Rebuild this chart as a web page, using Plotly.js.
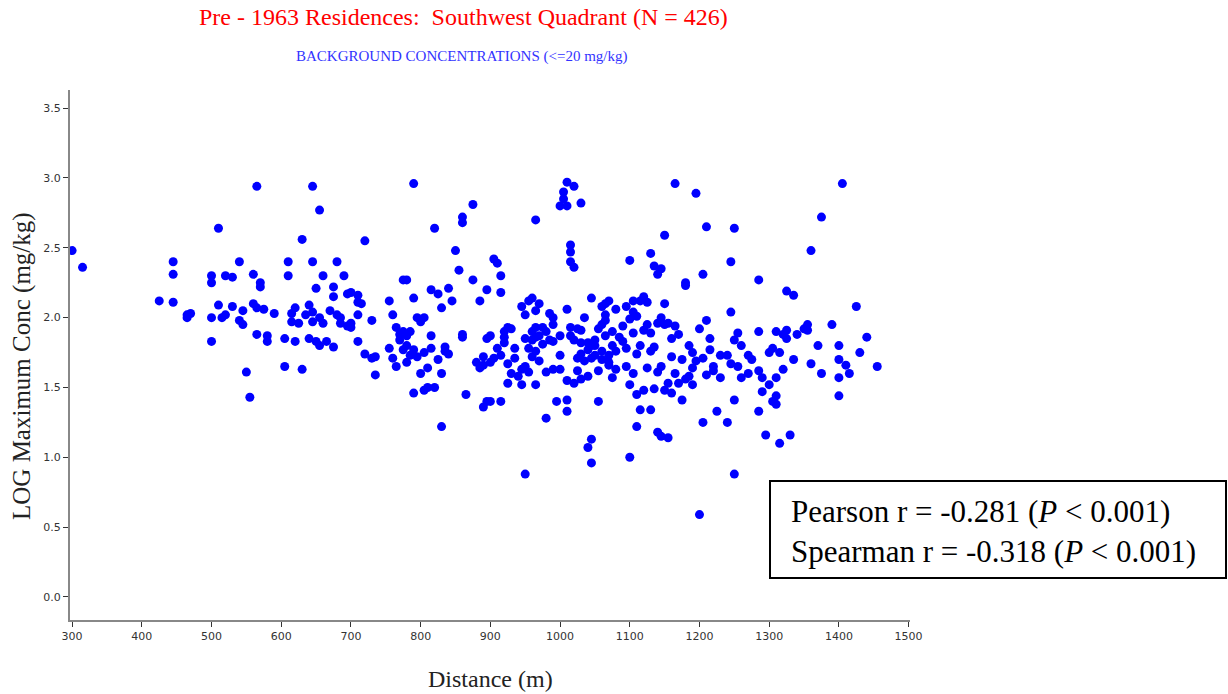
<!DOCTYPE html>
<html><head><meta charset="utf-8">
<script src="https://cdn.plot.ly/plotly-3.0.1.min.js"></script>
<style>html,body{margin:0;padding:0;background:#fff}#chart{width:1228px;height:694px}</style>
</head><body><div id="chart"></div>
<script>
const distance = [
300,315,425,445,445,445,465,465,470,
500,500,500,500,510,510,515,520,520,530,530,540,540,545,545,550,555,560,560,565,565,565,570,570,575,580,580,590,
605,605,610,610,615,615,620,620,625,630,630,635,640,640,645,645,645,645,650,650,655,655,655,660,660,665,670,675,675,675,680,680,685,685,690,695,695,700,700,700,
710,710,710,710,715,720,720,730,730,735,735,755,755,760,760,765,765,770,770,775,775,775,780,780,780,780,785,785,790,790,790,790,795,795,800,800,805,805,805,810,810,815,815,815,820,820,825,825,830,830,830,835,835,840,840,845,850,855,860,860,860,860,865,875,875,880,885,885,890,890,890,895,895,895,900,900,900,905,905,910,910,915,915,915,915,920,920,920,925,925,925,930,930,935,935,940,945,945,945,950,950,950,950,955,955,955,960,960,960,960,965,965,965,965,965,965,970,970,970,975,975,980,980,980,985,985,990,990,990,990,995,
1000,1000,1000,1000,1005,1005,1010,1010,1010,1010,1010,1010,1015,1015,1015,1015,1015,1020,1020,1020,1020,1025,1025,1025,1030,1030,1030,1030,1030,1035,1035,1040,1040,1040,1040,1045,1045,1045,1045,1045,1050,1050,1050,1055,1055,1055,1060,1060,1060,1060,1065,1065,1065,1065,1070,1070,1070,1070,1075,1075,1075,1080,1080,1080,1085,1090,1090,1095,1095,1095,
1100,1100,1100,1100,1105,1105,1105,1105,1110,1110,1110,1110,1115,1115,1115,1120,1120,1120,1125,1125,1125,1130,1130,1130,1130,1135,1135,1135,1140,1140,1140,1140,1145,1145,1145,1145,1150,1150,1150,1150,1155,1155,1155,1160,1160,1160,1165,1165,1165,1170,1170,1175,1175,1180,1180,1180,1185,1185,1190,1190,1190,1195,1195,
1200,1200,1205,1205,1205,1210,1210,1210,1215,1215,1220,1220,1225,1230,1230,1240,1240,1245,1245,1245,1250,1250,1250,1250,1255,1255,1260,1260,1270,1270,1275,1285,1285,1285,1285,1290,1290,1295,
1300,1300,1305,1305,1310,1310,1310,1310,1315,1315,1320,1320,1325,1325,1325,1330,1335,1335,1340,1350,1355,1355,1360,1360,1370,1375,1375,1390,
1400,1400,1400,1400,1405,1410,1415,1425,1430,1440,1455
];
const logConc = [
2.48,2.36,2.12,2.11,2.31,2.40,2.00,2.02,2.03,
2.30,2.25,2.00,1.83,2.64,2.09,2.00,2.02,2.30,2.08,2.29,2.40,1.98,1.95,2.05,1.61,1.43,2.31,2.10,2.94,2.07,1.88,2.22,2.25,2.06,1.87,1.83,2.03,
1.65,1.85,2.40,2.30,2.03,1.97,2.07,1.83,1.96,2.56,1.63,2.02,2.09,1.85,2.94,2.40,2.04,1.97,2.21,1.83,2.77,2.00,1.80,2.30,1.96,1.83,2.05,2.22,2.15,1.79,2.40,2.02,2.00,1.96,2.30,2.17,1.94,2.18,1.96,1.93,
2.16,2.11,2.02,1.83,2.10,2.55,1.74,1.98,1.71,1.59,1.72,2.12,1.78,2.02,1.71,1.65,1.93,1.84,1.88,2.27,1.90,1.77,2.27,1.68,1.80,1.87,1.90,1.73,2.14,2.96,1.46,1.77,2.00,1.72,1.97,1.60,1.48,2.00,1.75,1.50,1.64,2.20,1.87,1.78,2.64,1.50,2.17,1.70,2.07,1.60,1.22,1.79,1.76,2.21,1.74,2.12,2.48,2.34,2.68,2.72,1.88,1.86,1.45,2.81,2.27,1.68,1.64,2.12,1.36,1.66,1.72,1.40,1.85,2.20,1.68,1.87,1.40,2.42,1.71,2.39,1.78,1.73,2.30,2.18,1.40,1.82,1.86,1.90,1.93,1.53,1.67,1.92,1.60,1.78,1.71,1.58,1.63,1.52,2.08,2.02,1.85,0.88,1.65,1.61,1.78,2.12,2.14,1.84,1.90,1.72,2.70,2.05,1.93,1.86,1.76,1.52,2.10,1.87,1.69,1.93,1.81,1.28,1.90,1.61,2.03,1.84,2.00,1.83,1.95,1.63,1.40,
2.80,1.87,1.73,1.63,2.85,2.90,2.97,2.80,2.06,1.41,1.33,1.55,2.52,2.47,2.40,1.93,1.87,2.94,2.36,1.84,1.53,1.92,1.62,1.71,2.82,1.91,1.82,1.56,1.74,2.00,1.69,1.07,1.77,1.82,1.58,1.13,0.96,2.14,1.80,1.71,1.80,1.84,1.73,1.62,1.92,1.40,2.08,1.76,1.95,1.70,2.10,2.02,1.98,1.87,1.68,1.66,2.12,1.73,1.57,1.90,1.80,2.06,1.76,1.63,1.86,1.94,1.83,2.08,1.78,1.65,
2.41,1.99,1.00,1.52,2.04,2.12,1.89,1.60,1.22,2.01,1.74,1.45,1.80,2.12,1.34,2.15,1.48,1.91,2.11,1.95,1.64,2.46,1.89,1.76,1.34,2.37,1.79,1.49,2.31,1.96,1.18,1.61,2.35,1.15,1.65,2.00,2.59,2.10,1.95,1.48,1.96,1.53,1.14,1.85,1.72,1.46,2.96,1.60,1.94,1.53,1.88,1.70,1.41,2.23,2.25,1.56,1.80,1.58,1.64,1.52,1.75,2.89,1.69,
0.59,1.92,2.31,1.25,1.71,2.65,1.98,1.59,1.85,1.77,1.62,1.65,1.33,1.57,1.73,1.73,1.25,2.40,2.04,1.67,2.64,1.84,1.41,0.88,1.89,1.65,1.80,1.57,1.73,1.60,1.70,2.27,1.90,1.33,1.62,1.57,1.47,1.16,
1.75,1.52,1.78,1.40,1.57,1.38,1.90,1.44,1.10,1.75,1.88,1.63,2.19,1.85,1.91,1.16,2.16,1.70,1.88,1.92,1.95,1.91,2.48,1.67,1.80,2.72,1.60,1.95,
1.80,1.70,1.44,1.57,2.96,1.66,1.60,2.08,1.75,1.86,1.65
];
const xTicks = [300,400,500,600,700,800,900,1000,1100,1200,1300,1400,1500];
const yTicks = [0.0,0.5,1.0,1.5,2.0,2.5,3.0,3.5];
const titleText = 'Pre - 1963 Residences:  Southwest Quadrant (N = 426)';
const subtitleText = 'BACKGROUND CONCENTRATIONS (<=20 mg/kg)';
const xTitle = 'Distance (m)';
const yTitle = 'LOG Maximum Conc (mg/kg)';
const statsText = 'Pearson r = -0.281 (<i>P</i> < 0.001)<br>Spearman r = -0.318 (<i>P</i> < 0.001)';

const L = 70, R = 910, T = 90, B = 620;
const W = 1228, H = 694;
const px = x => (x - L) / (R - L);
const py = y => (B - y) / (B - T);
const serif = 'Liberation Serif, Times New Roman, serif';

const trace = {
  x: distance, y: logConc, type: 'scatter', mode: 'markers',
  marker: {color: '#0000ff', size: 9, line: {width: 0}},
  hoverinfo: 'x+y'
};
const axisCommon = {
  showgrid: false, zeroline: false, showline: true, linecolor: '#888888', linewidth: 2,
  ticks: 'outside', ticklen: 5, tickcolor: '#333333', tickwidth: 1,
  tickfont: {family: 'DejaVu Sans, Verdana, sans-serif', size: 11, color: '#333333'}
};
const layout = {
  width: W, height: H, showlegend: false,
  paper_bgcolor: '#ffffff', plot_bgcolor: '#ffffff',
  margin: {l: L, r: W - R, t: T, b: H - B, pad: 0},
  xaxis: Object.assign({}, axisCommon, {range: [297, 1502], tickvals: xTicks, ticktext: xTicks.map(String)}),
  yaxis: Object.assign({}, axisCommon, {range: [-0.165, 3.63], tickvals: yTicks, ticktext: yTicks.map(v => v.toFixed(1))}),
  shapes: [
    {type: 'rect', xref: 'paper', yref: 'paper', x0: px(770), x1: px(1226), y0: py(578), y1: py(481),
     line: {color: '#000000', width: 2}, fillcolor: '#ffffff', layer: 'above'}
  ],
  annotations: [
    {text: titleText, xref: 'paper', yref: 'paper', x: px(463), y: py(17), xanchor: 'center', yanchor: 'middle', showarrow: false,
     font: {family: serif, size: 24, color: '#ff0000'}},
    {text: subtitleText, xref: 'paper', yref: 'paper', x: px(462), y: py(57), xanchor: 'center', yanchor: 'middle', showarrow: false,
     font: {family: serif, size: 15, color: '#3333ff'}},
    {text: xTitle, xref: 'paper', yref: 'paper', x: px(490), y: py(679), xanchor: 'center', yanchor: 'middle', showarrow: false,
     font: {family: serif, size: 24, color: '#222222'}},
    {text: yTitle, xref: 'paper', yref: 'paper', x: px(22), y: py(366), xanchor: 'center', yanchor: 'middle', showarrow: false, textangle: -90,
     font: {family: serif, size: 25, color: '#222222'}},
    {text: statsText, xref: 'paper', yref: 'paper', x: px(789), y: py(531), xanchor: 'left', yanchor: 'middle', showarrow: false,
     align: 'left', font: {family: serif, size: 31, color: '#000000'}}
  ]
};
Plotly.newPlot('chart', [trace], layout, {displayModeBar: false, staticPlot: true});
</script>
</body></html>
